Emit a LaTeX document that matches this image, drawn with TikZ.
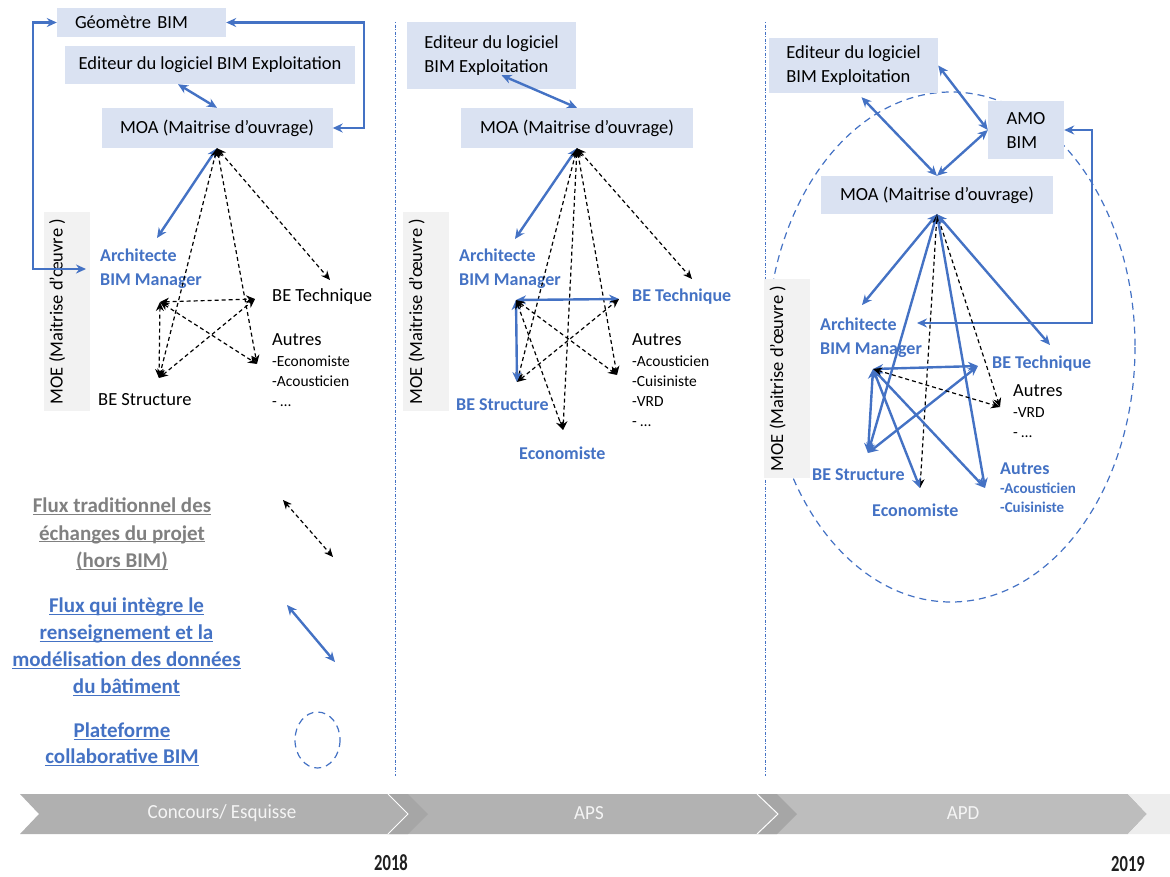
\documentclass[tikz,border=0pt]{standalone}
\usepackage{fontspec}
\setmainfont{Carlito}
\newfontfamily\stripfont[FakeStretch=0.95]{Carlito}
\newfontfamily\yearfont[FakeStretch=0.72]{Carlito}
\usetikzlibrary{arrows.meta,calc}
\definecolor{bimblue}{RGB}{68,114,196}
\definecolor{boxfill}{RGB}{218,226,242}
\definecolor{moefill}{RGB}{242,242,242}
\definecolor{leggray}{RGB}{128,128,128}
\newcommand{\fsz}[2]{\fontsize{#1}{#2}\selectfont}
\newcommand{\legul}[1]{\underline{\smash{#1}}\vphantom{Ag}}

\begin{document}
\begin{tikzpicture}[x=1pt, y=-1pt,
    box/.style={fill=boxfill, inner sep=0pt, align=center, font=\fsz{18.5}{24}},
    moebox/.style={fill=moefill, rotate=90, minimum width=199pt, inner xsep=0pt, inner ysep=3pt, text height=16pt, text depth=24pt, font=\fsz{18.5}{22}},
    txt/.style={inner sep=0pt, anchor=west, align=left, font=\fsz{18.5}{22}},
    listtxt/.style={inner sep=0pt, anchor=north west, align=left, font=\fsz{15.5}{20}},
    bimtxt/.style={inner sep=0pt, anchor=west, align=left, text=bimblue, font=\bfseries\fsz{18}{24}},
    legtxt/.style={inner sep=0pt, align=center, font=\bfseries\fsz{21}{27.5}},
    blueflow/.style={draw=bimblue, line width=2.4pt, {Stealth[length=10pt,width=9pt]}-{Stealth[length=10pt,width=9pt]}},
    plainflow/.style={draw=black, line width=1.2pt, dash pattern=on 4pt off 3pt, {Stealth[length=9pt,width=8pt]}-{Stealth[length=9pt,width=8pt]}},
    sep/.style={draw=bimblue, line width=0.9pt, dash pattern=on 1pt off 1.5pt on 3pt off 1.5pt},
    platform/.style={draw=bimblue, line width=1.2pt, dash pattern=on 7pt off 5pt},
    striptxt/.style={inner sep=0pt, text=white!96!black, font=\stripfont\fsz{20}{24}},
    yeartxt/.style={inner sep=0pt, text=black!88, font=\yearfont\bfseries\fsz{23}{26}}]

    \useasboundingbox (0,0) rectangle (1170,876);

    % phase separators
    \draw[sep] (395,22) -- (395,776);
    \draw[sep] (765,22) -- (765,776);

    % --- Concours / Esquisse
    \node[box, align=left, inner xsep=18pt, text width=133pt, minimum height=29pt] (geo1) at (141.5,22.5) {Géomètre BIM};
    \node[box, minimum width=290pt, minimum height=38pt] (edit1) at (210,65) {Editeur du logiciel BIM Exploitation};
    \node[box, minimum width=231pt, minimum height=40pt] (moa1) at (217,128) {MOA (Maitrise d’ouvrage)};
    \node[moebox] (moe1) at (66.5,311.5) {MOE (Maitrise d’œuvre )};
    \node[bimtxt] (arch1) at (100,269) {Architecte\\BIM Manager};
    \node[txt] (tech1) at (272,297) {BE Technique};
    \node[listtxt] (aut1) at (272,333) {{\fsz{18.5}{22}Autres}\\[1pt]-Economiste\\-Acousticien\\- …};
    \node[txt] (struct1) at (98,400) {BE Structure};

    \coordinate (a1) at (160,302);
    \coordinate (t1) at (255,299);
    \coordinate (s1) at (159,378);
    \coordinate (o1) at (257,364);
    \coordinate (ba1) at (157,238);
    \coordinate (bt1) at (330,280);

    \draw[blueflow] (geo1.east) -- ++(138,0) |- (moa1.east);
    \draw[blueflow, shorten >=14pt] (geo1.west) -- ++(-24,0) |- (arch1.west);
    \draw[blueflow] ([xshift=-32pt]edit1.south) -- (moa1.north);
    \draw[blueflow] (moa1.south) -- (ba1);
    \draw[plainflow] (moa1.south) -- (bt1);
    \draw[plainflow] (moa1.south) -- (s1);
    \draw[plainflow] (moa1.south) -- (o1);
    \draw[plainflow] (a1) -- (t1);
    \draw[plainflow] (a1) -- (s1);
    \draw[plainflow] (a1) -- (o1);
    \draw[plainflow] (s1) -- (t1);

    % --- APS
    \node[box, align=left, minimum width=169pt, minimum height=67pt] (edit2) at (491.5,55.5) {Editeur du logiciel\\BIM Exploitation};
    \node[box, minimum width=232pt, minimum height=40pt] (moa2) at (577,128) {MOA (Maitrise d’ouvrage)};
    \node[moebox] (moe2) at (426,311.5) {MOE (Maitrise d’œuvre )};
    \node[bimtxt] (arch2) at (459,269) {Architecte\\BIM Manager};
    \node[bimtxt] (tech2) at (632,297) {BE Technique};
    \node[listtxt] (aut2) at (632,333) {{\fsz{18.5}{22}Autres}\\[1pt]-Acousticien\\-Cuisiniste\\-VRD\\- …};
    \node[bimtxt] (struct2) at (456,405) {BE Structure};
    \node[bimtxt] (eco2) at (519,453) {Economiste};

    \coordinate (a2) at (516,300);
    \coordinate (t2) at (619,299);
    \coordinate (s2) at (517,382);
    \coordinate (o2) at (617,375);
    \coordinate (e2) at (563,430);
    \coordinate (ba2) at (515,239);
    \coordinate (bt2) at (692,279);

    \draw[blueflow] ($(edit2.south)+(10,-14)$) -- (moa2.north);
    \draw[blueflow] (moa2.south) -- (ba2);
    \draw[plainflow] (moa2.south) -- (bt2);
    \draw[plainflow] (moa2.south) -- (s2);
    \draw[plainflow] (moa2.south) -- (e2);
    \draw[plainflow] (moa2.south) -- (o2);
    \draw[blueflow] (a2) -- (t2);
    \draw[blueflow] (a2) -- (s2);
    \draw[plainflow] (a2) -- (o2);
    \draw[plainflow] (s2) -- (t2);
    \draw[plainflow] (a2) -- (e2);

    % --- APD
    \draw[platform] (951,347) ellipse [x radius=184, y radius=255];
    \node[box, align=left, minimum width=169pt, minimum height=55pt] (edit3) at (853.5,65.5) {Editeur du logiciel\\BIM Exploitation};
    \node[box, align=left, minimum width=76pt, minimum height=58pt] (amo3) at (1026,130) {AMO\\BIM};
    \node[box, minimum width=232pt, minimum height=38pt] (moa3) at (937,195) {MOA (Maitrise d’ouvrage)};
    \node[moebox, minimum height=42pt] (moe3) at (787,378.5) {MOE (Maitrise d’œuvre )};
    \node[bimtxt] (arch3) at (820,338) {Architecte\\BIM Manager};
    \node[bimtxt] (tech3) at (992,364) {BE Technique};
    \node[listtxt] (autk3) at (1013,384) {{\fsz{18.5}{22}Autres}\\[1pt]-VRD\\- …};
    \node[bimtxt] (struct3) at (812,475) {BE Structure};
    \node[bimtxt] (eco3) at (872,510) {Economiste};
    \node[bimtxt, anchor=north west] (autb3) at (1000,463) {Autres\\[-5pt]{\fsz{15}{19}-Acousticien}\\[-5pt]{\fsz{15}{19}-Cuisiniste}};

    \coordinate (a3) at (873,369);
    \coordinate (t3) at (978,366);
    \coordinate (s3) at (868,453);
    \coordinate (e3) at (920,488);
    \coordinate (ob3) at (985,488);
    \coordinate (ok3) at (1000,407);
    \coordinate (ba3) at (862,305);
    \coordinate (bt3) at (1050,345);
    \coordinate (ar3) at (917,323);

    \draw[blueflow] ([xshift=8pt,yshift=-4pt]edit3.south) -- (moa3.north);
    \draw[blueflow] (edit3.east) -- (amo3.west);
    \draw[blueflow] (amo3.west) -- (moa3.north);
    \draw[blueflow] (amo3.east) -- ++(28,0) |- (ar3);
    \draw[blueflow] (moa3.south) -- (ba3);
    \draw[blueflow] (moa3.south) -- (s3);
    \draw[plainflow] (moa3.south) -- (e3);
    \draw[blueflow] (moa3.south) -- (ob3);
    \draw[plainflow] (moa3.south) -- (ok3);
    \draw[blueflow] (moa3.south) -- (bt3);
    \draw[blueflow] (a3) -- (t3);
    \draw[blueflow] (a3) -- (s3);
    \draw[blueflow] (s3) -- (t3);
    \draw[blueflow] (a3) -- (e3);
    \draw[blueflow] (a3) -- (ob3);
    \draw[plainflow] (a3) -- (ok3);

    % --- legend
    \node[legtxt, text=leggray] (leg1) at (122,535) {\legul{Flux traditionnel des}\\\legul{échanges du projet}\\\legul{(hors BIM)}};
    \node[legtxt, text=bimblue, font=\bfseries\fsz{21}{27}] (leg2) at (126.5,648) {\legul{Flux qui intègre le}\\\legul{renseignement et la}\\\legul{modélisation des données}\\\legul{du bâtiment}};
    \node[legtxt, text=bimblue, font=\bfseries\fsz{21}{26}] (leg3) at (122,745.5) {\legul{Plateforme}\\\legul{collaborative BIM}};
    \coordinate (l1a) at (283,500);
    \coordinate (l1b) at (333,557);
    \coordinate (l2a) at (287,605);
    \coordinate (l2b) at (335,662);
    \draw[plainflow] (l1a) -- (l1b);
    \draw[blueflow] (l2a) -- (l2b);
    \draw[platform] (317.5,740) ellipse [x radius=22.5, y radius=28];

    % --- timeline
    \fill[black!30] (388,794) -- (757,794) -- (778,814) -- (757,834) -- (388,834) -- (408,814) -- cycle;
    \fill[black!26] (757,794) -- (1128,794) -- (1147,814) -- (1128,834) -- (757,834) -- (778,814) -- cycle;
    \fill[black!7] (1128,794) -- (1170,794) -- (1170,834) -- (1128,834) -- (1147,814) -- cycle;
    \fill[black!31] (20,794) -- (388,794) -- (408,814) -- (388,834) -- (20,834) -- (39,814) -- cycle;
    \fill[black!35] (388,794) -- (408,794) -- (428,814) -- (408,834) -- (388,834) -- (408,814) -- cycle;
    \fill[black!35] (757,794) -- (777,794) -- (797,814) -- (777,834) -- (757,834) -- (778,814) -- cycle;
    \draw[white, line width=1pt] (388,794) -- (408,814) -- (388,834);
    \draw[white, line width=1pt] (757,794) -- (778,814) -- (757,834);
    \node[striptxt] (ph1) at (222,813) {Concours/ Esquisse};
    \node[striptxt] (ph2) at (589,813) {APS};
    \node[striptxt] (ph3) at (963,813) {APD};
    \node[yeartxt] (y18) at (391,863) {2018};
    \node[yeartxt] (y19) at (1128,864) {2019};
\end{tikzpicture}
\end{document}
